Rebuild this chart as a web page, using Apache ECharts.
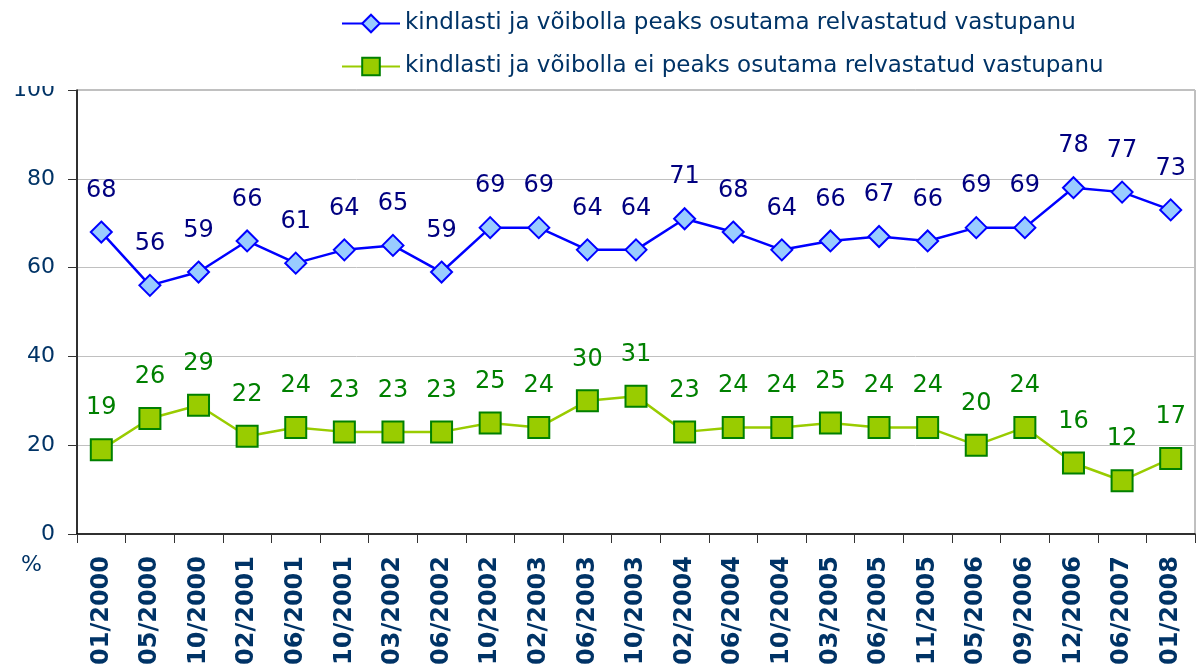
<!DOCTYPE html>
<html>
<head>
<meta charset="utf-8">
<script src="https://cdn.jsdelivr.net/npm/echarts@6/dist/echarts.min.js"></script>
<style>
  html, body { margin: 0; padding: 0; background: #fff; }
  #chart { width: 1196px; height: 670px; }
</style>
</head>
<body>
<div id="chart"></div>
<script>
var categories = ['01/2000', '05/2000', '10/2000', '02/2001', '06/2001', '10/2001', '03/2002', '06/2002',
  '10/2002', '02/2003', '06/2003', '10/2003', '02/2004', '06/2004', '10/2004', '03/2005', '06/2005',
  '11/2005', '05/2006', '09/2006', '12/2006', '06/2007', '01/2008'];
var seriesNames = [
  'kindlasti ja võibolla peaks osutama relvastatud vastupanu',
  'kindlasti ja võibolla ei peaks osutama relvastatud vastupanu'
];
var peaksValues = [68, 56, 59, 66, 61, 64, 65, 59, 69, 69, 64, 64, 71, 68, 64, 66, 67, 66, 69, 69, 78, 77, 73];
var eiPeaksValues = [19, 26, 29, 22, 24, 23, 23, 23, 25, 24, 30, 31, 23, 24, 24, 25, 24, 24, 20, 24, 16, 12, 17];

var font = 'DejaVu Sans, Verdana, sans-serif';
var axisColor = '#003366';

var chart = echarts.init(document.getElementById('chart'));
var option = {
  animation: false,
  textStyle: { fontFamily: font },
  legend: {
    orient: 'vertical',
    left: 336,
    top: 7,
    itemWidth: 58,
    itemHeight: 22,
    itemGap: 20,
    textStyle: { color: axisColor, fontSize: 23, fontFamily: font },
    data: seriesNames
  },
  grid: {
    left: 77,
    right: 1,
    top: 90,
    bottom: 136,
    show: true,
    borderColor: '#808080',
    borderWidth: 1
  },
  xAxis: {
    type: 'category',
    data: categories,
    boundaryGap: true,
    axisLine: { lineStyle: { color: '#000', width: 1.5 } },
    axisTick: { show: true, length: 9, lineStyle: { color: '#333' } },
    axisLabel: {
      rotate: 90,
      margin: 22,
      interval: 0,
      color: axisColor,
      fontSize: 24,
      fontWeight: 'bold',
      fontFamily: font
    }
  },
  yAxis: {
    type: 'value',
    min: 0,
    max: 100,
    interval: 20,
    name: '%',
    nameLocation: 'start',
    nameGap: 31,
    nameTextStyle: {
      color: axisColor,
      fontSize: 22,
      fontFamily: font,
      align: 'right',
      verticalAlign: 'middle',
      padding: [0, 35, 0, 0]
    },
    axisLine: { show: true, lineStyle: { color: '#000', width: 1.5 } },
    axisTick: { show: true, length: 9, lineStyle: { color: '#333' } },
    axisLabel: { color: axisColor, fontSize: 22, margin: 22, fontFamily: font },
    splitLine: { show: true, lineStyle: { color: '#c0c0c0', width: 1 } }
  },
  graphic: [{
    type: 'rect',
    left: 0,
    top: 0,
    z: 100,
    shape: { width: 70, height: 86 },
    style: { fill: '#fff' }
  }],
  series: [
    {
      name: seriesNames[0],
      type: 'line',
      data: peaksValues,
      symbol: 'diamond',
      symbolSize: 21,
      lineStyle: { color: '#0000ff', width: 2.5 },
      itemStyle: { color: '#99ccff', borderColor: '#0000ff', borderWidth: 2 },
      label: {
        show: true,
        position: 'top',
        distance: 18,
        color: '#000080',
        fontSize: 24,
        fontFamily: font
      }
    },
    {
      name: seriesNames[1],
      type: 'line',
      data: eiPeaksValues,
      symbol: 'rect',
      symbolSize: 21,
      lineStyle: { color: '#99cc00', width: 2.5 },
      itemStyle: { color: '#99cc00', borderColor: '#008000', borderWidth: 2 },
      label: {
        show: true,
        position: 'top',
        distance: 18,
        color: '#008000',
        fontSize: 24,
        fontFamily: font
      }
    }
  ]
};
chart.setOption(option);
</script>
</body>
</html>
